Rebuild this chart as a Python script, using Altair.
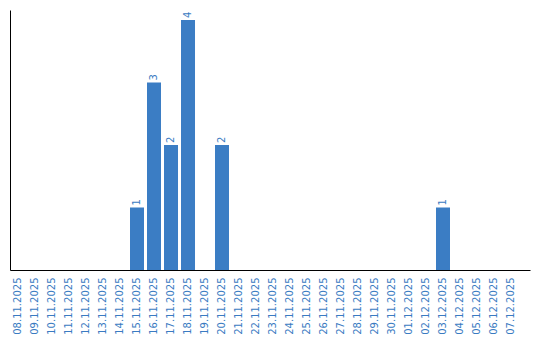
import altair as alt
import pandas as pd

dates = ["08.11.2025", "09.11.2025", "10.11.2025", "11.11.2025", "12.11.2025",
         "13.11.2025", "14.11.2025", "15.11.2025", "16.11.2025", "17.11.2025",
         "18.11.2025", "19.11.2025", "20.11.2025", "21.11.2025", "22.11.2025",
         "23.11.2025", "24.11.2025", "25.11.2025", "26.11.2025", "27.11.2025",
         "28.11.2025", "29.11.2025", "30.11.2025", "01.12.2025", "02.12.2025",
         "03.12.2025", "04.12.2025", "05.12.2025", "06.12.2025", "07.12.2025"]
counts = [0, 0, 0, 0, 0, 0, 0, 1, 3, 2, 4, 0, 2, 0, 0,
          0, 0, 0, 0, 0, 0, 0, 0, 0, 0, 1, 0, 0, 0, 0]

df = pd.DataFrame({"date": dates, "count": counts})

BLUE = "#3b7dc4"
TEXT = "#3a7bc2"

x = alt.X("date:N", sort=dates, title=None,
          scale=alt.Scale(paddingInner=3/17, paddingOuter=0.382, align=0.077),
          axis=alt.Axis(labelAngle=270, labelColor=TEXT, labelFont="DejaVu Sans",
                        labelFontSize=10, ticks=False, labelPadding=7,
                        domainColor="black", domainWidth=1, labelOverlap=False))
y = alt.Y("count:Q", title=None,
          scale=alt.Scale(domain=[0, 4.16], nice=False, zero=True),
          axis=alt.Axis(labels=False, ticks=False, grid=False,
                        domainColor="black", domainWidth=1))

bars = alt.Chart(df).mark_bar(color=BLUE).encode(x=x, y=y)

labels = alt.Chart(df).transform_filter("datum.count > 0").mark_text(
    angle=270, align="left", baseline="middle", dx=2,
    font="DejaVu Sans", fontSize=10, color=TEXT
).encode(x=alt.X("date:N", sort=dates), y=alt.Y("count:Q"), text="count:Q")

chart = (bars + labels).properties(
    width=520, height=260,
    background="white",
    autosize=alt.AutoSizeParams(type="none"),
    padding={"left": 10, "top": 10, "right": 10, "bottom": 70},
).configure_view(stroke=None, strokeWidth=0)

chart.save("out.html", embed_options={"renderer": "svg", "actions": False})
